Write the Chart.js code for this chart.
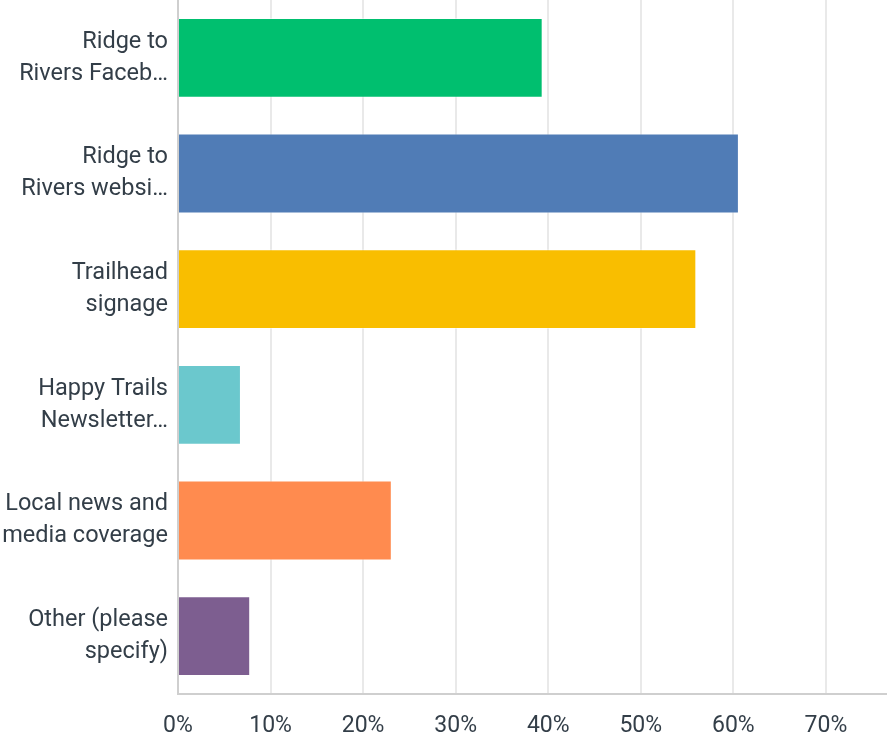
<!DOCTYPE html>
<html>
<head>
<meta charset="utf-8">
<script src="https://cdn.jsdelivr.net/npm/chart.js@4/dist/chart.umd.min.js"></script>
<style>
  html, body { margin: 0; padding: 0; background: #fff; }
  #wrap { width: 887px; height: 740px; }
</style>
</head>
<body>
<div id="wrap"><canvas id="chart"></canvas></div>
<script>
const categories = [
    ['Ridge to', 'Rivers Faceb…'],
    ['Ridge to', 'Rivers websi…'],
    ['Trailhead', 'signage'],
    ['Happy Trails', 'Newsletter…'],
    ['Local news and', 'media coverage'],
    ['Other (please', 'specify)']
];
const percentValues = [39.4, 60.6, 56.0, 6.8, 23.1, 7.8];
const barColors = ['#00bf6f', '#507cb6', '#f9be00', '#6bc8cd', '#ff8b4f', '#7d5e90'];
const tickValues = [0, 10, 20, 30, 40, 50, 60, 70];

const textColor = '#333e48';
const fontFamily = 'Roboto, sans-serif';

const ctx = document.getElementById('chart').getContext('2d');
const chart = new Chart(ctx, {
    type: 'bar',
    data: {
        labels: categories,
        datasets: [{
            data: percentValues,
            backgroundColor: barColors,
            borderColor: 'rgba(255,255,255,0.45)',
            borderWidth: 1,
            barPercentage: 0.69,
            categoryPercentage: 1
        }]
    },
    options: {
        indexAxis: 'y',
        responsive: true,
        maintainAspectRatio: false,
        animation: false,
        layout: { padding: 0 },
        plugins: {
            legend: { display: false },
            tooltip: { enabled: false }
        },
        scales: {
            x: {
                min: 0,
                max: 76.6,
                afterBuildTicks: (axis) => {
                    axis.ticks = tickValues.map(v => ({ value: v }));
                },
                afterFit: (scale) => {
                    scale.height = 46;
                    scale.paddingLeft = 0;
                    scale.paddingRight = 0;
                },
                grid: { color: '#e9e9e9', lineWidth: 2, drawTicks: false },
                border: { display: true, color: '#cfcfcf', width: 2 },
                ticks: {
                    padding: 18,
                    color: textColor,
                    font: { family: fontFamily, size: 23 },
                    callback: (v) => v + '%'
                }
            },
            y: {
                afterFit: (scale) => {
                    scale.width = 178;
                    scale.paddingTop = 0;
                    scale.paddingBottom = 0;
                },
                grid: { display: false, drawTicks: false },
                border: { display: true, color: '#cfcfcf', width: 2 },
                ticks: {
                    padding: 10,
                    color: textColor,
                    font: { family: fontFamily, size: 23.5, lineHeight: 1.36 }
                }
            }
        }
    }
});
</script>
</body>
</html>
